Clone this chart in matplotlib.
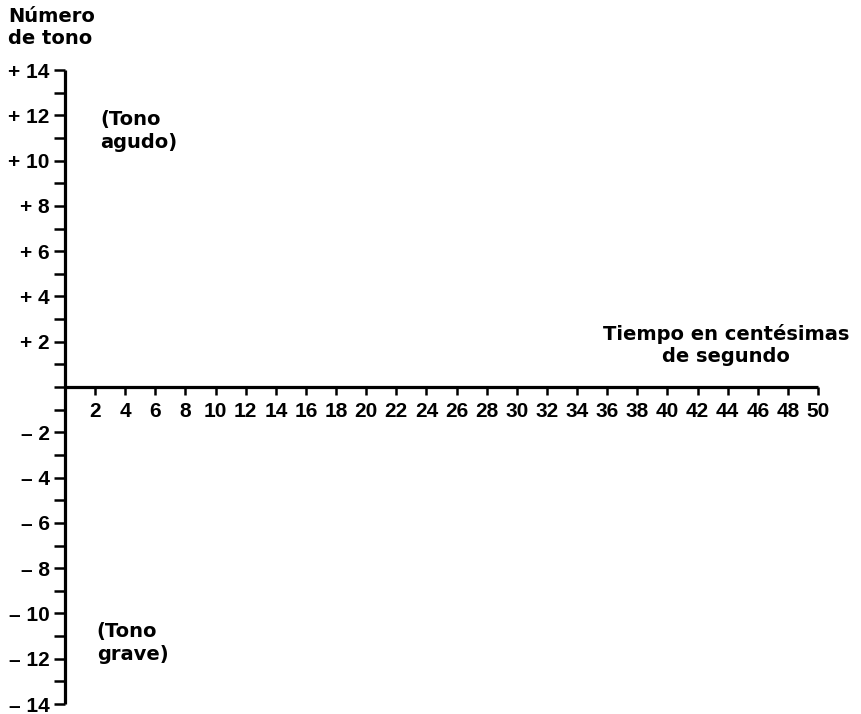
import matplotlib.pyplot as plt
from matplotlib.ticker import FixedLocator

# axis data (the chart is an empty grid for tone number vs time)
x_ticks = list(range(2, 52, 2))
x_labels = [str(v) for v in x_ticks]
y_ticks = list(range(-14, 16, 2))
y_labels = [("+ %d" % v) if v > 0 else ("\u2013 %d" % -v) if v < 0 else "" for v in y_ticks]
y_minor = list(range(-13, 15, 2))

plt.rcParams['font.family'] = ['Liberation Sans', 'DejaVu Sans']
plt.rcParams['font.weight'] = 'bold'
text_font = ['DejaVu Sans']

fig = plt.figure(figsize=(8.62, 7.14), dpi=100)
ax = fig.add_axes([65 / 862, 10 / 714, (818 - 65) / 862, (704 - 70) / 714])
ax.set_xlim(0, 50)
ax.set_ylim(-14, 14)

ax.spines['top'].set_visible(False)
ax.spines['right'].set_visible(False)
ax.spines['bottom'].set_position(('data', 0))
ax.spines['left'].set_position(('data', 0))
for s in ('bottom', 'left'):
    ax.spines[s].set_linewidth(2.3)
    ax.spines[s].set_capstyle('butt')

ax.xaxis.set_major_locator(FixedLocator(x_ticks))
ax.set_xticklabels(x_labels, fontweight='bold', fontsize=15)
ax.yaxis.set_major_locator(FixedLocator(y_ticks))
ax.set_yticklabels(y_labels, fontweight='bold', fontsize=15)
ax.yaxis.set_minor_locator(FixedLocator(y_minor))

ax.tick_params(axis='x', direction='out', length=6, width=1.8, pad=5)
ax.tick_params(axis='y', which='both', direction='out', length=8, width=1.8, pad=3)

fig.text(8 / 862, 1 - 27 / 714, "Número\nde tono", fontsize=14, fontweight='bold',
         family=text_font, va='center', ha='left', linespacing=1.2)
ax.text(2.32, 11.3, "(Tono\nagudo)", fontsize=14, fontweight='bold',
        family=text_font, va='center', ha='left', linespacing=1.3)
ax.text(2.1, -11.3, "(Tono\ngrave)", fontsize=14, fontweight='bold',
        family=text_font, va='center', ha='left', linespacing=1.3)
ax.text(43.9, 1.85, "Tiempo en centésimas\nde segundo", fontsize=14,
        fontweight='bold', family=text_font, va='center', ha='center',
        linespacing=1.2)

fig.savefig("out.png", dpi=100)
